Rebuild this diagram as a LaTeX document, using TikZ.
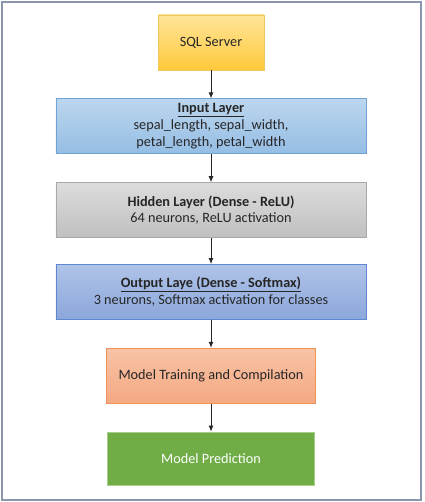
\documentclass[tikz,border=0pt]{standalone}
\usepackage{fontspec}
\setmainfont{Carlito}
\usepackage{tikz}
\usetikzlibrary{arrows.meta, positioning}
\definecolor{sqlTop}{HTML}{FFE49A}
\definecolor{sqlBot}{HTML}{FFC93A}
\definecolor{sqlLine}{HTML}{F2C760}
\definecolor{inTop}{HTML}{BCD6EE}
\definecolor{inBot}{HTML}{95BDE4}
\definecolor{inLine}{HTML}{6FA3D6}
\definecolor{hidTop}{HTML}{DCDCDC}
\definecolor{hidBot}{HTML}{C0C0C0}
\definecolor{hidLine}{HTML}{A8A8A8}
\definecolor{outTop}{HTML}{B0C3E8}
\definecolor{outBot}{HTML}{8BA7DB}
\definecolor{outLine}{HTML}{5F86D0}
\definecolor{trTop}{HTML}{F8C3A6}
\definecolor{trBot}{HTML}{F4A982}
\definecolor{trLine}{HTML}{F0925C}
\definecolor{predFill}{HTML}{70AD47}
\definecolor{predLine}{HTML}{A6D08A}
\definecolor{frameLine}{HTML}{8A96AE}
\tikzset{
  stage/.style={draw, align=center, minimum height=55bp, inner sep=2bp, line width=0.8bp},
  source/.style={stage, minimum width=106bp, top color=sqlTop, bottom color=sqlBot, draw=sqlLine},
  inlayer/.style={stage, minimum width=310bp, top color=inTop, bottom color=inBot, draw=inLine},
  hidlayer/.style={stage, minimum width=310bp, top color=hidTop, bottom color=hidBot, draw=hidLine},
  outlayer/.style={stage, minimum width=310bp, top color=outTop, bottom color=outBot, draw=outLine},
  training/.style={stage, minimum width=209bp, top color=trTop, bottom color=trBot, draw=trLine},
  predict/.style={stage, minimum width=207bp, fill=predFill, draw=predLine, text=white},
  arrow/.style={-{Latex[length=6bp, width=5bp]}, line width=0.8bp, black!85},
  every node/.style={font=\fontsize{14.3}{17}\selectfont, text=black!85}
}

\begin{document}
\begin{tikzpicture}[x=1bp, y=1bp, node distance=28bp]
    \useasboundingbox (0,0) rectangle (424,-502);
    \draw[frameLine, line width=1.6bp] (2,-2) rectangle (421,-500);

    \node[source] (sql) at (211,-42.5) {SQL Server};
    \node[inlayer, below=of sql] (input) {\underline{\textbf{Input Layer}}\\sepal\_length, sepal\_width,\\petal\_length, petal\_width};
    \node[hidlayer, below=of input] (hidden) {\textbf{Hidden Layer (Dense - ReLU)}\\64 neurons, ReLU activation};
    \node[outlayer, below=26bp of hidden] (output) {\underline{\textbf{Output Laye (Dense - Softmax)}}\\3 neurons, Softmax activation for classes};
    \node[training, below=of output] (train) {Model Training and Compilation};
    \node[predict, below=of train, minimum height=53bp] (pred) {Model Prediction};

    \draw[arrow] (sql) -- (input);
    \draw[arrow] (input) -- (hidden);
    \draw[arrow] (hidden) -- (output);
    \draw[arrow] (output) -- (train);
    \draw[arrow] (train) -- (pred);
\end{tikzpicture}
\end{document}
